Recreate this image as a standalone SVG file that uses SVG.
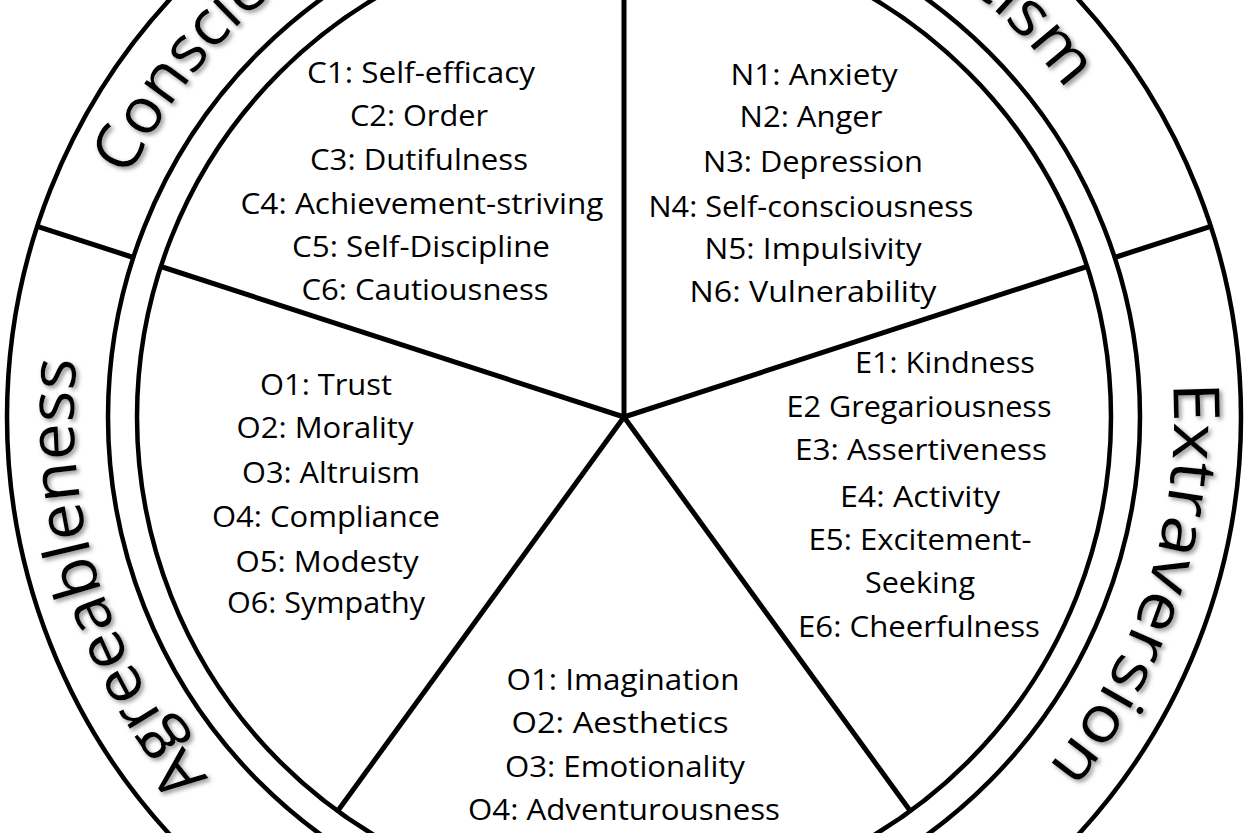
<svg xmlns="http://www.w3.org/2000/svg" width="1250" height="833" viewBox="0 0 1250 833">
<style>
.ring{fill:none;stroke:#000;stroke-width:4.5}
.spoke{stroke:#000;stroke-width:5;stroke-linecap:butt}
.t{font-family:"Open Sans","Liberation Sans",sans-serif;font-size:29px;fill:#000;text-anchor:middle}
.lab{font-family:"Open Sans","Liberation Sans",sans-serif;font-size:64px;fill:#000;text-anchor:middle}
</style>
<defs>
<filter id="sh" x="-10%" y="-10%" width="120%" height="120%">
<feDropShadow dx="2.5" dy="2.5" stdDeviation="2" flood-color="#777" flood-opacity="0.8"/>
</filter>
<path id="arcA" d="M413.5 925.1 A550 550 0 0 1 160.1 121.5"/>
<path id="arcE" d="M1090.4 125.5 A550 550 0 0 1 830.0 926.9"/>
<path id="arcC" d="M76.1 369.1 A550 550 0 0 1 766.4 -114.3"/>
<path id="arcN" d="M467.8 -110.4 A550 550 0 0 1 1170.5 354.7"/>
</defs>
<rect width="1250" height="833" fill="#fff"/>
<g id="wheel">
<circle class="ring" cx="624" cy="417" r="487"/>
<circle class="ring" cx="624" cy="417" r="516"/>
<circle class="ring" cx="624" cy="417" r="617"/>
</g>
<g id="connectors">
<line class="spoke" x1="624" y1="417" x2="624" y2="-70"/>
<line class="spoke" x1="624" y1="417" x2="1087.2" y2="266.5"/>
<line class="spoke" x1="624" y1="417" x2="910.3" y2="811"/>
<line class="spoke" x1="624" y1="417" x2="337.7" y2="811"/>
<line class="spoke" x1="624" y1="417" x2="160.8" y2="266.5"/>
<line class="spoke" x1="1114.7" y1="257.5" x2="1210.8" y2="226.3"/>
<line class="spoke" x1="133.3" y1="257.5" x2="37.2" y2="226.3"/>
<line class="spoke" x1="927.3" y1="834.5" x2="986.7" y2="916"/>
<line class="spoke" x1="320.7" y1="834.5" x2="261.3" y2="916"/>
</g>
<g id="conscientiousness">
<text class="lab" filter="url(#sh)"><textPath href="#arcC" startOffset="50%" textLength="560" lengthAdjust="spacingAndGlyphs">Conscientiousness</textPath></text>
<text class="t" x="421" y="83" textLength="228" lengthAdjust="spacingAndGlyphs">C1: Self-efficacy</text>
<text class="t" x="419" y="126" textLength="138" lengthAdjust="spacingAndGlyphs">C2: Order</text>
<text class="t" x="419" y="170" textLength="218" lengthAdjust="spacingAndGlyphs">C3: Dutifulness</text>
<text class="t" x="422" y="214" textLength="363" lengthAdjust="spacingAndGlyphs">C4: Achievement-striving</text>
<text class="t" x="421" y="257" textLength="258" lengthAdjust="spacingAndGlyphs">C5: Self-Discipline</text>
<text class="t" x="425" y="300" textLength="247" lengthAdjust="spacingAndGlyphs">C6: Cautiousness</text>
</g>
<g id="neuroticism">
<text class="lab" filter="url(#sh)"><textPath href="#arcN" startOffset="50%" textLength="385" lengthAdjust="spacingAndGlyphs">Neuroticism</textPath></text>
<text class="t" x="814" y="85" textLength="167" lengthAdjust="spacingAndGlyphs">N1: Anxiety</text>
<text class="t" x="811" y="127" textLength="143" lengthAdjust="spacingAndGlyphs">N2: Anger</text>
<text class="t" x="813" y="172" textLength="220" lengthAdjust="spacingAndGlyphs">N3: Depression</text>
<text class="t" x="811" y="217" textLength="325" lengthAdjust="spacingAndGlyphs">N4: Self-consciousness</text>
<text class="t" x="813" y="259" textLength="217" lengthAdjust="spacingAndGlyphs">N5: Impulsivity</text>
<text class="t" x="813" y="302" textLength="247" lengthAdjust="spacingAndGlyphs">N6: Vulnerability</text>
</g>
<g id="extraversion">
<text class="lab" filter="url(#sh)"><textPath href="#arcE" startOffset="50%" textLength="414" lengthAdjust="spacingAndGlyphs">Extraversion</textPath></text>
<text class="t" x="945" y="373" textLength="180" lengthAdjust="spacingAndGlyphs">E1: Kindness</text>
<text class="t" x="919" y="417" textLength="265" lengthAdjust="spacingAndGlyphs">E2 Gregariousness</text>
<text class="t" x="921" y="460" textLength="252" lengthAdjust="spacingAndGlyphs">E3: Assertiveness</text>
<text class="t" x="920" y="507" textLength="160" lengthAdjust="spacingAndGlyphs">E4: Activity</text>
<text class="t" x="920" y="550" textLength="223" lengthAdjust="spacingAndGlyphs">E5: Excitement-</text>
<text class="t" x="920" y="593" textLength="110" lengthAdjust="spacingAndGlyphs">Seeking</text>
<text class="t" x="919" y="637" textLength="242" lengthAdjust="spacingAndGlyphs">E6: Cheerfulness</text>
</g>
<g id="agreeableness">
<text class="lab" filter="url(#sh)"><textPath href="#arcA" startOffset="50%" textLength="451" lengthAdjust="spacingAndGlyphs">Agreeableness</textPath></text>
<text class="t" x="326" y="395" textLength="132" lengthAdjust="spacingAndGlyphs">O1: Trust</text>
<text class="t" x="325" y="438" textLength="177" lengthAdjust="spacingAndGlyphs">O2: Morality</text>
<text class="t" x="331" y="483" textLength="178" lengthAdjust="spacingAndGlyphs">O3: Altruism</text>
<text class="t" x="326" y="527" textLength="228" lengthAdjust="spacingAndGlyphs">O4: Compliance</text>
<text class="t" x="327" y="572" textLength="183" lengthAdjust="spacingAndGlyphs">O5: Modesty</text>
<text class="t" x="326" y="613" textLength="198" lengthAdjust="spacingAndGlyphs">O6: Sympathy</text>
</g>
<g id="openness">
<text class="t" x="623" y="690" textLength="233" lengthAdjust="spacingAndGlyphs">O1: Imagination</text>
<text class="t" x="620" y="733" textLength="217" lengthAdjust="spacingAndGlyphs">O2: Aesthetics</text>
<text class="t" x="625" y="777" textLength="240" lengthAdjust="spacingAndGlyphs">O3: Emotionality</text>
<text class="t" x="624" y="820" textLength="312" lengthAdjust="spacingAndGlyphs">O4: Adventurousness</text>
</g>
</svg>
